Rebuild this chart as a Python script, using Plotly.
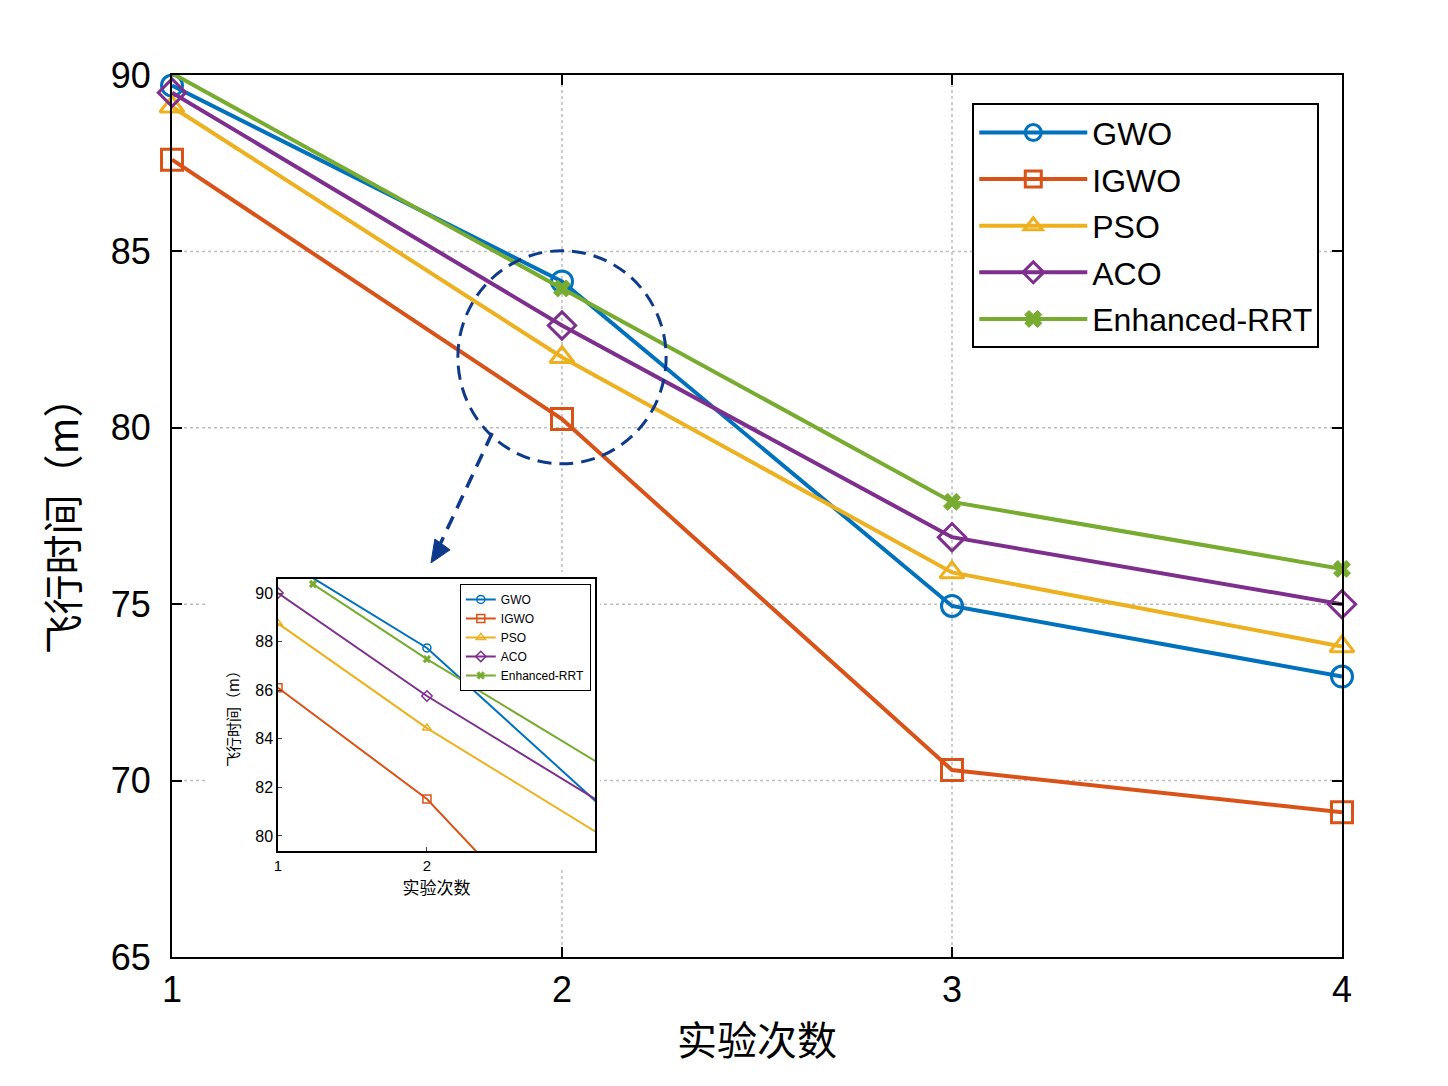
import plotly.graph_objects as go

# ---------------- data ----------------
runs = [1, 2, 3, 4]
series_names = ["GWO", "IGWO", "PSO", "ACO", "Enhanced-RRT"]
gwo = [89.7, 84.15, 74.95, 72.95]
igwo = [87.6, 80.25, 70.3, 69.1]
pso = [89.1, 82.0, 75.9, 73.8]
aco = [89.5, 82.9, 76.9, 75.0]
errt = [90.05, 83.95, 77.9, 76.0]

# inset (zoomed) data, the last point lies beyond the inset's visible range
inset_x_gwo = [1, 2, 4]
inset_gwo = [91.5, 87.74, 76.6]
inset_x_igwo = [1, 2, 4]
inset_igwo = [86.1, 81.52, 68.5]
inset_x_pso = [1, 2, 4]
inset_pso = [88.75, 84.44, 76.9]
inset_x_aco = [1, 2, 4]
inset_aco = [90.0, 85.76, 78.25]
inset_x_errt = [1.235, 2, 4]
inset_errt = [90.37, 87.28, 79.85]

y_ticks = [65, 70, 75, 80, 85, 90]
x_ticks = [1, 2, 3, 4]
inset_y_ticks = [80, 82, 84, 86, 88, 90]
inset_x_ticks = [1, 2]

colors = ["#0072BD", "#D95319", "#EDB120", "#7E2F8E", "#77AC30"]
symbols = ["circle-open", "square-open", "triangle-up-open", "diamond-open", "x"]
main_data = [gwo, igwo, pso, aco, errt]
inset_data = [(inset_x_gwo, inset_gwo), (inset_x_igwo, inset_igwo), (inset_x_pso, inset_pso),
              (inset_x_aco, inset_aco), (inset_x_errt, inset_errt)]

X_RANGE = [1, 4]
Y_RANGE = [65, 90]

FONT = "Liberation Sans, Arial, Noto Sans CJK SC, sans-serif"
CJK = "Noto Sans CJK SC"
NAVY = "#0E3A8C"

fig = go.Figure()

for i, name in enumerate(series_names):
    is_x = symbols[i] == "x"
    fig.add_trace(go.Scatter(
        x=runs, y=main_data[i], name=name, mode="lines+markers",
        line=dict(color=colors[i], width=4),
        marker=dict(symbol=symbols[i], size=15 if is_x else 21, color=colors[i],
                    line=dict(color=colors[i], width=3 if not is_x else 1)),
        cliponaxis=False, legendgroup=name, legend="legend",
        xaxis="x", yaxis="y",
    ))

for i, name in enumerate(series_names):
    is_x = symbols[i] == "x"
    xs, ys = inset_data[i]
    fig.add_trace(go.Scatter(
        x=xs, y=ys, name=name, mode="lines+markers",
        line=dict(color=colors[i], width=2),
        marker=dict(symbol=symbols[i], size=7 if is_x else 8, color=colors[i],
                    line=dict(color=colors[i], width=1.5 if not is_x else 0.5)),
        legend="legend2", legendgroup="i" + name,
        xaxis="x2", yaxis="y2",
    ))

axis_common = dict(showline=True, linecolor="black", linewidth=2, mirror="ticks",
                   ticks="inside", ticklen=10, tickwidth=1.5, tickcolor="black",
                   zeroline=False, showgrid=False)

fig.update_layout(
    width=1448, height=1086,
    margin=dict(l=172, r=106, t=75, b=129),
    paper_bgcolor="white", plot_bgcolor="white",
    font=dict(family=FONT, color="black"),
    xaxis=dict(range=X_RANGE, tickvals=x_ticks, tickfont=dict(size=36),
               title=dict(text="实验次数", font=dict(size=40, family=CJK), standoff=18),
               **axis_common),
    yaxis=dict(range=Y_RANGE, tickvals=y_ticks, tickfont=dict(size=36), ticklabelstandoff=12,
               title=dict(text="飞行时间（m）", font=dict(size=40, family=CJK), standoff=20),
               **axis_common),
    xaxis2=dict(domain=[0.0906, 0.3615], anchor="y2", range=[1, 3.128], tickvals=inset_x_ticks,
                tickfont=dict(size=15), showgrid=False, showline=True, linecolor="black",
                linewidth=1.5, mirror=True, ticks="inside", ticklen=4, zeroline=False,
                title=dict(text="实验次数", font=dict(size=17, family=CJK), standoff=4)),
    yaxis2=dict(domain=[0.1202, 0.4286], anchor="x2", range=[79.38, 90.58], tickvals=inset_y_ticks,
                tickfont=dict(size=16), showgrid=False, showline=True, linecolor="black",
                linewidth=1.5, mirror=True, ticks="inside", ticklen=4, zeroline=False,
                title=dict(text="飞行时间（m）", font=dict(size=15, family=CJK), standoff=12)),
    legend=dict(x=0.684, y=0.968, xanchor="left", yanchor="top",
                bgcolor="white", bordercolor="black", borderwidth=2,
                font=dict(size=32, family=FONT), tracegroupgap=2, itemwidth=108),
    legend2=dict(x=0.246, y=0.423, xanchor="left", yanchor="top",
                 bgcolor="white", bordercolor="black", borderwidth=1,
                 font=dict(size=12, family=FONT), tracegroupgap=0),
    showlegend=True,
)

# dotted grid lines (interior ticks) drawn as lower shapes so the inset can hide them
for yv in y_ticks[1:-1]:
    fig.add_shape(type="line", xref="x", yref="y", x0=X_RANGE[0], x1=X_RANGE[1], y0=yv, y1=yv,
                  line=dict(color="#bdbdbd", width=1.5, dash="dot"), layer="below")
for xv in x_ticks[1:-1]:
    fig.add_shape(type="line", xref="x", yref="y", x0=xv, x1=xv, y0=Y_RANGE[0], y1=Y_RANGE[1],
                  line=dict(color="#bdbdbd", width=1.5, dash="dot"), layer="below")

# white background behind the inset and its labels
fig.add_shape(type="rect", xref="x", yref="y",
              x0=1.085, x1=2.097, y0=67.5, y1=75.91,
              fillcolor="white", line=dict(width=0), layer="below")
fig.add_shape(type="rect", xref="x", yref="y",
              x0=1.085, x1=1.95, y0=66.47, y1=67.6,
              fillcolor="white", line=dict(width=0), layer="below")

# dashed zoom circle around run 2
fig.add_shape(type="circle", xref="x", yref="y",
              x0=1.733, x1=2.267, y0=78.98, y1=85.02,
              line=dict(color=NAVY, width=3, dash="14px,8px"))

# dashed arrow pointing to the inset
fig.add_shape(type="line", xref="x", yref="y",
              x0=1.821, y0=79.85, x1=1.684, y1=76.62,
              line=dict(color=NAVY, width=3.5, dash="14px,9px"))
fig.add_shape(type="path", xref="x", yref="y",
              path="M 1.674 76.85 L 1.713 76.54 L 1.664 76.17 Z",
              fillcolor=NAVY, line=dict(color=NAVY, width=1))

fig.write_html("out.html")
